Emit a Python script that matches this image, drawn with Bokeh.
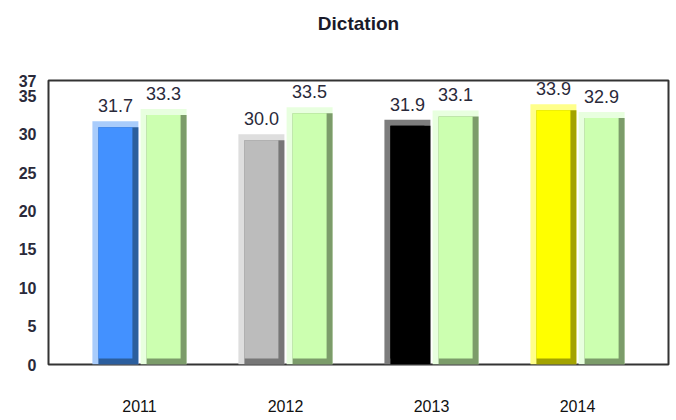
from bokeh.plotting import figure
from bokeh.models import ColumnDataSource, FactorRange, Range1d, FixedTicker, Title
from bokeh.transform import dodge
from bokeh.core.properties import value
from bokeh.embed import file_html
from bokeh.resources import INLINE

# ---- data ----
title = "Dictation"
years = ["2011", "2012", "2013", "2014"]
school = [31.7, 30.0, 31.9, 33.9]
comparison = [33.3, 33.5, 33.1, 32.9]
y_ticks = [0, 5, 10, 15, 20, 25, 30, 35, 37]

# ---- styles ----
school_face = ["#4391ff", "#bcbcbc", "#000000", "#ffff00"]
school_light = ["#a9ccfb", "#dedede", "#7d7d7d", "#ffff8a"]
school_dark = ["#2b5e9e", "#777777", "#000000", "#a3a300"]
comp_face = "#ccffb0"
comp_light = "#e8ffdf"
comp_dark = "#7c9c6a"

BAR_W = 0.315
OFF = 0.165
BX = 0.041   # bevel width in category units (~6px)
BY = 0.78    # bevel height in value units (~6px)
FONT = "Liberation Sans"

p = figure(x_range=FactorRange(factors=years, range_padding=0.0616),
           y_range=Range1d(0, 37),
           width=672, height=418, output_backend="svg", toolbar_location=None,
           min_border_left=48, min_border_right=4, min_border_top=80, min_border_bottom=54)

def bevel_bars(vals, face, light, dark, offset):
    src = ColumnDataSource(dict(
        year=years, top=vals,
        inner_top=[v - BY for v in vals],
        face=face if isinstance(face, list) else [face] * len(vals),
        light=light if isinstance(light, list) else [light] * len(vals),
        dark=dark if isinstance(dark, list) else [dark] * len(vals),
    ))
    # full bar, light (left + top bevels)
    p.vbar(x=dodge("year", offset, range=p.x_range), top="top", bottom=0, width=BAR_W,
           fill_color="light", line_color=None, source=src)
    # dark layer (right + bottom bevels)
    p.vbar(x=dodge("year", offset + BX / 2, range=p.x_range), top="inner_top", bottom=0,
           width=BAR_W - BX, fill_color="dark", line_color=None, source=src)
    # face
    p.vbar(x=dodge("year", offset, range=p.x_range), top="inner_top", bottom=BY,
           width=BAR_W - 2 * BX, fill_color="face", line_color=None, source=src)
    lab = ColumnDataSource(dict(year=years, top=vals, txt=["%.1f" % v for v in vals]))
    p.text(x=dodge("year", offset, range=p.x_range), y="top", text="txt", source=lab,
           text_align="center", text_baseline="bottom", y_offset=-9,
           text_font=value(FONT), text_font_size="18px", text_color="#2a2a3a")

bevel_bars(school, school_face, school_light, school_dark, -OFF)
bevel_bars(comparison, comp_face, comp_light, comp_dark, OFF)

# spacer between frame and title (closest to the frame)
p.add_layout(Title(text=" ", text_font_size="1px", standoff=39), "above")

p.title.text = title
p.title.align = "center"
p.title.offset = -6
p.title.text_font = FONT
p.title.text_font_size = "19px"
p.title.text_font_style = "bold"
p.title.text_color = "#1a1a2a"
p.title.standoff = 10

p.outline_line_color = "#333333"
p.outline_line_width = 2
p.xgrid.grid_line_color = None
p.ygrid.grid_line_color = None

p.yaxis.ticker = FixedTicker(ticks=y_ticks)
p.yaxis.axis_line_color = None
p.yaxis.major_tick_line_color = None
p.yaxis.minor_tick_line_color = None
p.yaxis.major_label_standoff = 6
p.yaxis.major_label_text_font = FONT
p.yaxis.major_label_text_font_size = "16px"
p.yaxis.major_label_text_font_style = "bold"
p.yaxis.major_label_text_color = "#2a2a3a"

p.xaxis.axis_line_color = None
p.xaxis.major_tick_line_color = None
p.xaxis.minor_tick_line_color = None
p.xaxis.major_label_standoff = 29
p.xaxis.major_label_text_font = FONT
p.xaxis.major_label_text_font_size = "16px"
p.xaxis.major_label_text_color = "#111111"

open("out.html", "w").write(file_html(p, INLINE))
